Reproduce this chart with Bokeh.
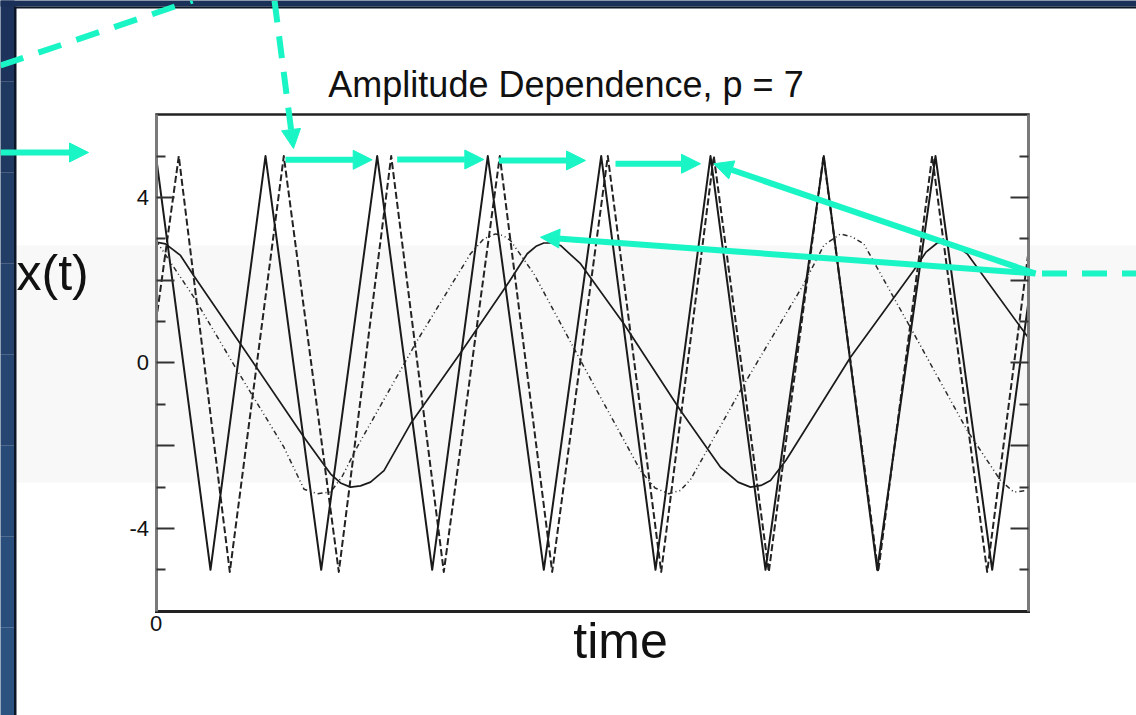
from bokeh.plotting import figure
from bokeh.models import (Range1d, LinearAxis, FixedTicker, BoxAnnotation, Label,
                          Arrow, NormalHead)
from bokeh.embed import file_html
from bokeh.resources import INLINE

# ---------------- data ----------------
# fast oscillation, solid (amplitude 5)
t_fast_solid = [0.0, 5.45, 10.95, 16.52, 22.12, 27.62, 33.18, 38.78, 44.52, 49.95,
                55.45, 60.95, 66.78, 72.12, 77.95, 83.62, 87.2]
x_fast_solid = [5.0, -5.0, 5.0, -5.0, 5.0, -5.0, 5.0, -5.0, 5.0, -5.0,
                5.0, -5.0, 5.0, -5.0, 5.0, -5.0, 1.4]

# fast oscillation, dashed (amplitude 5, slightly shorter period)
t_fast_dashed = [0.0, 2.28, 7.38, 12.78, 18.28, 23.52, 28.78, 34.38, 39.62, 45.18,
                 50.52, 55.78, 61.28, 66.75, 72.22, 77.62, 83.12, 87.2]
x_fast_dashed = [1.0, 5.0, -5.05, 5.0, -5.05, 5.0, -5.05, 5.0, -5.05, 5.0,
                 -5.05, 5.0, -5.05, 5.0, -5.05, 5.0, -5.05, 2.6]

# slow oscillation, solid (amplitude 3)
t_slow_solid = [0.0, 0.95, 2.45, 3.78, 8.45, 14.78, 17.45, 18.45, 19.45, 20.45,
                21.45, 22.8, 25.45, 30.62, 35.28, 37.12, 38.0, 38.78, 39.6, 40.45,
                42.45, 46.78, 52.45, 56.45, 58.2, 59.45, 60.5, 61.45, 63.0, 69.45,
                75.78, 77.0, 78.12, 79.12, 80.1, 81.12, 87.2]
x_slow_solid = [2.92, 2.88, 2.60, 2.11, 0.46, -1.79, -2.68, -2.90, -3.0, -2.97,
                -2.88, -2.60, -1.47, 0.30, 1.95, 2.64, 2.82, 2.90, 2.90, 2.84,
                2.40, 0.95, -1.15, -2.52, -2.88, -3.0, -2.96, -2.84, -2.35, 0.14,
                2.24, 2.68, 2.90, 2.92, 2.82, 2.64, 0.62]

# slow oscillation, dash-dot (amplitude ~3.1)
t_slow_dashdot = [0.0, 3.78, 8.12, 12.78, 14.8, 16.12, 17.45, 18.6, 20.12, 26.12,
                  31.45, 32.78, 33.95, 34.7, 35.45, 37.78, 42.45, 48.45, 49.9, 51.28,
                  52.45, 53.5, 58.45, 64.78, 66.8, 68.45, 69.6, 70.78, 75.78, 81.12,
                  84.45, 85.78, 87.2]
x_slow_dashdot = [2.96, 1.59, -0.18, -2.03, -3.05, -3.16, -3.12, -2.75, -2.03, 0.54,
                  2.64, 3.0, 3.12, 3.08, 2.96, 2.16, 0.06, -2.60, -3.02, -3.16,
                  -3.08, -2.80, -0.66, 1.91, 2.85, 3.12, 3.05, 2.88, 0.71, -1.63,
                  -2.84, -3.12, -3.08]

y_labelled_ticks = [-4, 0, 4]
y_long_ticks = [-2, 2]
y_short_ticks = [-5, -3, -1, 1, 3, 5]
y_tick_labels = {-4: "-4", 0: "0", 4: "4"}
x_ticks = [0]
x_tick_labels = {0: "0"}

T_END = 87.2
Y_LIM = 6

# ---------------- figure ----------------
CYAN = "#1AF5C6"
FONT = "Liberation Sans"

p = figure(width=1136, height=715, output_backend="svg", toolbar_location=None,
           x_range=Range1d(-15.55, 98.05), y_range=Range1d(-8.520, 8.761),
           x_axis_location=None, y_axis_location=None, min_border=0)
p.outline_line_color = None
p.background_fill_color = "white"
p.border_fill_color = "white"
p.xgrid.visible = False
p.ygrid.visible = False

# slide decoration: light band and blue frame edges
p.add_layout(BoxAnnotation(left=-13.95, right=99, bottom=-2.888, top=2.84,
                           fill_color="#f8f8f8", fill_alpha=1, line_color=None,
                           level="underlay"))
blues = ["#1d335c", "#203961", "#223e67", "#24426c", "#264671", "#284a76",
         "#2a4e7b", "#2c5280"]
ys = [9.0, 6.8, 4.6, 2.4, 0.2, -2.0, -4.2, -6.4, -9.0]
for i, c in enumerate(blues):
    p.add_layout(BoxAnnotation(left=-17, right=-14.15, top=ys[i], bottom=ys[i + 1],
                               fill_color=c, fill_alpha=1, line_color=None,
                               level="underlay"))
p.add_layout(BoxAnnotation(left=-17, right=100, top=9, bottom=8.616,
                           fill_color="#1b3058", fill_alpha=1, line_color=None,
                           level="underlay"))
p.add_layout(BoxAnnotation(left=-14.2, right=100, top=8.616, bottom=8.568,
                           fill_color="#0b1526", fill_alpha=1, line_color=None,
                           level="underlay"))
p.add_layout(BoxAnnotation(left=-14.2, right=-13.95, top=8.616, bottom=-9,
                           fill_color="#0b1526", fill_alpha=1, line_color=None,
                           level="underlay"))

# curves
p.line(t_slow_dashdot, x_slow_dashdot, line_color="#2a2a2a", line_width=1.5,
       line_dash="5 3 1 3 1 3")
p.line(t_slow_solid, x_slow_solid, line_color="#1a1a1a", line_width=1.7)
p.line(t_fast_dashed, x_fast_dashed, line_color="#222222", line_width=2,
       line_dash="7 3", line_join="round")
p.line(t_fast_solid, x_fast_solid, line_color="#1a1a1a", line_width=2,
       line_join="round")

# axes (drawn at fixed data positions)
TICK_STYLE = dict(major_tick_out=0, minor_tick_out=0,
                  major_tick_line_color="#333333", major_tick_line_width=2,
                  minor_tick_line_color="#333333", minor_tick_line_width=2)

left = LinearAxis(fixed_location=0, bounds=(-Y_LIM, Y_LIM),
                  ticker=FixedTicker(ticks=y_labelled_ticks, minor_ticks=y_short_ticks),
                  major_label_overrides=y_tick_labels,
                  major_tick_in=18, minor_tick_in=9,
                  axis_line_color="#7a7a7a", axis_line_width=3,
                  major_label_standoff=7, major_label_text_font=FONT,
                  major_label_text_font_size="22px", major_label_text_color="#111111",
                  **TICK_STYLE)
p.add_layout(left, "left")
left_long = LinearAxis(fixed_location=0, bounds=(-Y_LIM, Y_LIM),
                       ticker=FixedTicker(ticks=[], minor_ticks=y_long_ticks),
                       major_tick_in=0, minor_tick_in=18, axis_line_color=None,
                       **TICK_STYLE)
p.add_layout(left_long, "left")

right = LinearAxis(fixed_location=T_END, bounds=(-Y_LIM, Y_LIM),
                   ticker=FixedTicker(ticks=[], minor_ticks=y_short_ticks),
                   major_tick_in=0, minor_tick_in=9,
                   axis_line_color="#7a7a7a", axis_line_width=3, **TICK_STYLE)
p.add_layout(right, "right")
right_long = LinearAxis(fixed_location=T_END, bounds=(-Y_LIM, Y_LIM),
                        ticker=FixedTicker(ticks=[], minor_ticks=y_labelled_ticks + y_long_ticks),
                        major_tick_in=0, minor_tick_in=18, axis_line_color=None,
                        **TICK_STYLE)
p.add_layout(right_long, "right")

bottom = LinearAxis(fixed_location=-Y_LIM, bounds=(0, T_END),
                    ticker=FixedTicker(ticks=x_ticks, minor_ticks=[]),
                    major_label_overrides=x_tick_labels,
                    major_tick_in=0, major_tick_out=0,
                    axis_line_color="#222222", axis_line_width=3, axis_line_cap="square",
                    major_label_standoff=5, major_label_text_font=FONT,
                    major_label_text_font_size="22px", major_label_text_color="#111111")
p.add_layout(bottom, "below")

top = LinearAxis(fixed_location=Y_LIM, bounds=(0, T_END),
                 ticker=FixedTicker(ticks=[], minor_ticks=[]),
                 major_tick_in=0, major_tick_out=0,
                 axis_line_color="#222222", axis_line_width=2.5, axis_line_cap="square")
p.add_layout(top, "above")

# texts
p.add_layout(Label(x=41.0, y=6.74, text="Amplitude Dependence, p = 7",
                   text_align="center", text_baseline="middle", text_font=FONT,
                   text_font_size="36px", text_color="#111111"))
p.add_layout(Label(x=-13.95, y=2.17, text="x(t)", text_align="left",
                   text_baseline="middle", text_font=FONT, text_font_size="50px",
                   text_color="#111111"))
p.add_layout(Label(x=46.45, y=-6.73, text="time", text_align="center",
                   text_baseline="middle", text_font=FONT, text_font_size="50px",
                   text_color="#111111"))

# cyan annotation arrows
def head():
    return NormalHead(size=19, fill_color=CYAN, line_color=CYAN, line_width=1)

def arrow(x0, y0, x1, y1, dash="solid", with_head=True):
    p.add_layout(Arrow(x_start=x0, y_start=y0, x_end=x1, y_end=y1,
                       line_color=CYAN, line_width=6, line_dash=dash,
                       end=head() if with_head else None))

arrow(-15.55, 7.19, 3.65, 8.76, dash="24 16", with_head=False)
arrow(11.85, 8.76, 13.75, 5.185, dash="22 14")
arrow(-15.55, 5.087, -6.75, 5.087)
arrow(12.95, 4.911, 21.62, 4.911)
arrow(24.12, 4.918, 32.78, 4.918)
arrow(34.28, 4.894, 42.95, 4.894)
arrow(45.95, 4.815, 54.45, 4.815)
arrow(87.95, 2.163, 55.78, 4.815)
arrow(87.95, 2.163, 38.45, 3.04)
arrow(88.6, 2.163, 98.5, 2.163, dash="25 15", with_head=False)

open("out.html", "w").write(file_html(p, INLINE))
